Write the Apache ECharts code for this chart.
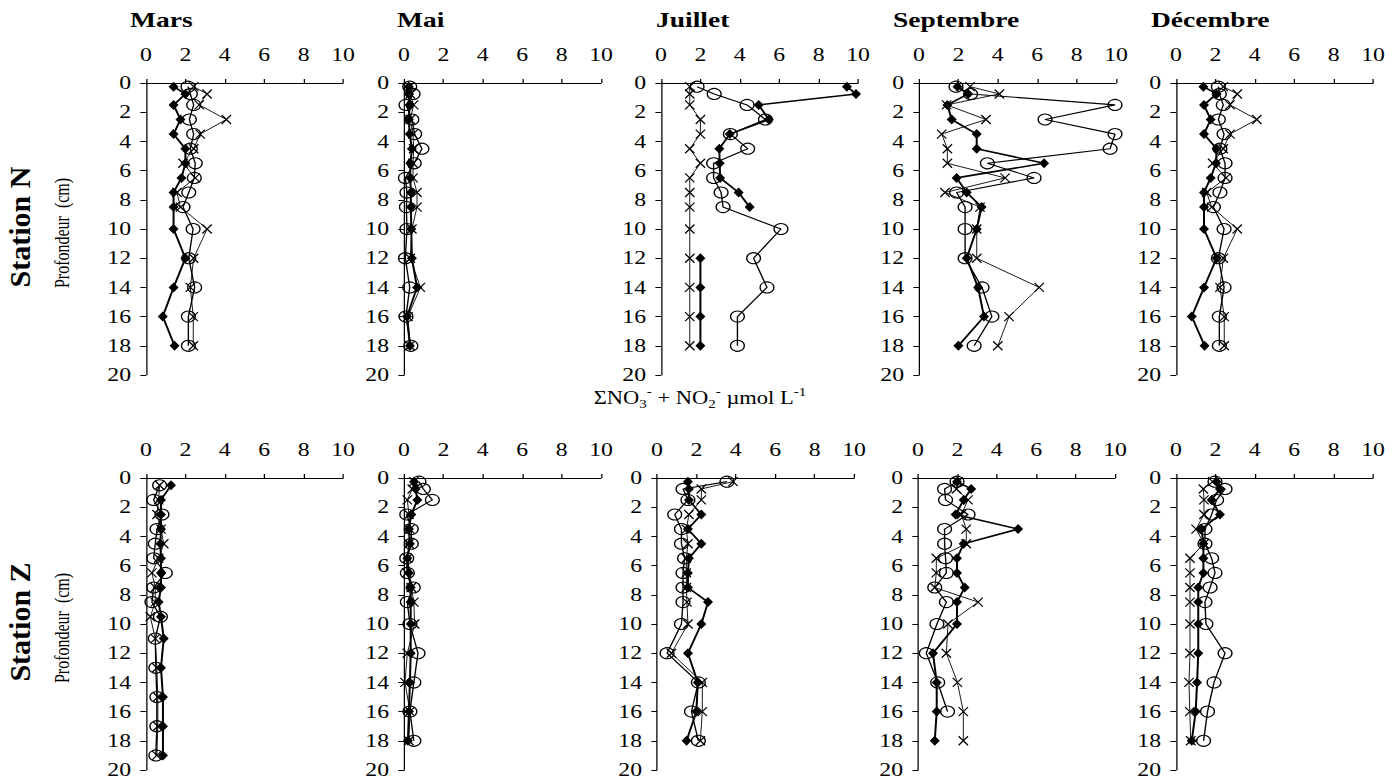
<!DOCTYPE html>
<html>
<head>
<meta charset="utf-8">
<script src="https://cdn.jsdelivr.net/npm/echarts@6.0.0/dist/echarts.min.js"></script>
<style>
html, body { margin: 0; padding: 0; background: #fff; overflow: hidden; }
/* the reference picture is stretched sideways, so the chart is drawn narrow and widened */
#main { width: 1119.2px; height: 782px; transform: scaleX(1.25); transform-origin: 0 0; }
</style>
</head>
<body>
<div id="main"></div>
<script>
const SX = 1.25;

const months = ['Mars', 'Mai', 'Juillet', 'Septembre', 'Décembre'];
const stations = ['Station N', 'Station Z'];
const xTicks = [0, 2, 4, 6, 8, 10];

// depths (cm)
const depthStd = [0.25, 0.75, 1.5, 2.5, 3.5, 4.5, 5.5, 6.5, 7.5, 8.5, 10, 12, 14, 16, 18];
const depthMarsZ = [0.5, 1.5, 2.5, 3.5, 4.5, 5.5, 6.5, 7.5, 8.5, 9.5, 11, 13, 15, 17, 19];

// Station N  (dia = filled diamond, cir = open circle, crs = cross)
const marsN_dia = [1.4, 2.0, 1.4, 1.75, 1.4, 2.0, 2.0, 1.8, 1.4, 1.4, 1.4, 2.0, 1.4, 0.85, 1.45];
const marsN_cir = [2.13, 2.25, 2.42, 2.2, 2.42, 2.25, 2.5, 2.45, 2.17, 1.88, 2.39, 2.17, 2.47, 2.15, 2.15];
const marsN_crs = [2.42, 3.1, 2.7, 4.08, 2.75, 2.42, 1.88, 2.5, 1.57, 1.75, 3.1, 2.42, 2.25, 2.4, 2.4];

const maiN_dia = [0.24, 0.24, 0.29, 0.24, 0.29, 0.4, 0.32, 0.32, 0.35, 0.35, 0.37, 0.4, 0.66, 0.15, 0.3];
const maiN_cir = [0.29, 0.46, 0.1, 0.4, 0.54, 0.91, 0.52, 0.07, 0.15, 0.12, 0.15, 0.07, 0.29, 0.1, 0.35];
const maiN_crs = [0.29, 0.32, 0.49, 0.32, 0.46, 0.49, 0.46, 0.46, 0.66, 0.66, 0.4, 0.32, 0.83, 0.2, 0.3];

const juilN_dia = [9.44, 9.9, 4.96, 5.47, 3.49, 2.96, 2.98, 3.0, 3.94, 4.5, null, 2.0, 2.0, 2.0, 2.0];
const juilN_cir = [1.83, 2.7, 4.37, 5.3, 3.52, 4.4, 2.67, 2.67, 3.05, 3.15, 6.09, 4.7, 5.38, 3.88, 3.88];
const juilN_crs = [1.46, 1.46, 1.46, 2.0, 2.0, 1.46, 2.0, 1.46, 1.46, 1.46, 1.46, 1.46, 1.46, 1.46, 1.46];

const septN_dia = [1.95, 2.5, 1.44, 1.66, 2.93, 2.93, 6.35, 1.91, 2.42, 3.18, 2.93, 2.42, 3.0, 3.3, 2.0];
const septN_cir = [1.88, 2.62, 9.95, 6.4, 9.95, 9.7, 3.47, 5.84, 1.91, 2.34, 2.34, 2.34, 3.2, 3.7, 2.8];
const septN_crs = [2.59, 4.08, 1.4, 3.4, 1.15, 1.44, 1.44, 4.37, 1.32, 3.1, 2.93, 2.93, 6.1, 4.57, 4.0];

const decN_dia = [1.39, 2.06, 1.42, 1.76, 1.42, 2.06, 2.03, 1.76, 1.42, 1.42, 1.42, 2.06, 1.42, 0.8, 1.45];
const decN_cir = [2.15, 2.2, 2.4, 2.15, 2.44, 2.23, 2.49, 2.49, 2.23, 1.9, 2.44, 2.15, 2.44, 2.2, 2.2];
const decN_crs = [2.4, 3.11, 2.74, 4.1, 2.74, 2.4, 1.86, 2.54, 1.56, 1.81, 3.11, 2.4, 2.23, 2.45, 2.45];

// Station Z
const marsZ_dia = [1.27, 0.76, 0.76, 0.76, 0.73, 0.76, 0.76, 0.76, 0.64, 0.76, 0.9, 0.76, 0.86, 0.86, 0.86];
const marsZ_cir = [0.69, 0.39, 0.81, 0.56, 0.47, 0.39, 0.98, 0.39, 0.3, 0.73, 0.47, 0.5, 0.55, 0.55, 0.5];
const marsZ_crs = [0.69, 0.64, 0.56, 0.76, 0.9, 0.64, 0.3, 0.47, 0.47, 0.22, 0.47, 0.55, 0.6, 0.6, 0.55];

const maiZ_dia = [0.51, 0.59, 0.68, 0.37, 0.25, 0.3, 0.17, 0.25, 0.34, 0.34, 0.34, 0.34, 0.3, 0.25, 0.2];
const maiZ_cir = [0.76, 0.98, 1.44, 0.14, 0.37, 0.37, 0.14, 0.17, 0.47, 0.17, 0.3, 0.71, 0.5, 0.3, 0.5];
const maiZ_crs = [0.5, 0.42, 0.17, 0.25, 0.3, 0.25, 0.17, 0.14, 0.37, 0.5, 0.54, 0.17, 0.05, 0.3, 0.25];

const juilZ_dia = [1.57, 1.62, 1.62, 2.25, 1.57, 2.25, 1.62, 1.57, 1.57, 2.59, 2.25, 1.57, 2.07, 2.0, 1.5];
const juilZ_cir = [3.55, 1.32, 1.57, 0.9, 1.24, 1.24, 1.4, 1.32, 1.32, 1.32, 1.24, 0.51, 2.1, 1.75, 2.1];
const juilZ_crs = [3.86, 2.25, 2.25, 1.62, 1.49, 1.57, 1.49, 1.49, 1.49, 1.52, 1.57, 0.73, 2.3, 2.3, 2.2];

const septZ_dia = [1.98, 2.7, 2.32, 1.91, 5.08, 2.32, 1.98, 1.98, 2.37, 1.98, 1.98, 0.76, 0.95, 0.95, 0.85];
const septZ_cir = [1.98, 1.35, 1.4, 2.54, 1.35, 1.35, 1.4, 1.44, 0.85, 1.44, 0.96, 0.42, 1.0, 1.5, null];
const septZ_crs = [2.03, 1.95, 2.54, 2.2, 2.45, 2.45, 0.93, 0.93, 0.85, 3.05, 1.52, 1.44, 2.0, 2.3, 2.3];

const decZ_dia = [2.06, 2.23, 1.81, 2.23, 1.3, 1.39, 1.39, 1.39, 1.13, 1.13, 1.13, 1.13, 1.07, 1.0, 0.8];
const decZ_cir = [1.98, 2.49, 2.06, 1.81, 1.47, 1.47, 1.81, 1.98, 1.73, 1.47, 1.52, 2.49, 1.93, 1.6, 1.4];
const decZ_crs = [1.86, 1.39, 1.42, 1.42, 1.02, 1.42, 0.71, 0.71, 0.71, 0.71, 0.71, 0.71, 0.66, 0.7, 0.75];

const panels = [
    { depth: depthStd, dia: marsN_dia, cir: marsN_cir, crs: marsN_crs },
    { depth: depthStd, dia: maiN_dia, cir: maiN_cir, crs: maiN_crs },
    { depth: depthStd, dia: juilN_dia, cir: juilN_cir, crs: juilN_crs },
    { depth: depthStd, dia: septN_dia, cir: septN_cir, crs: septN_crs },
    { depth: depthStd, dia: decN_dia, cir: decN_cir, crs: decN_crs },
    { depth: depthMarsZ, dia: marsZ_dia, cir: marsZ_cir, crs: marsZ_crs },
    { depth: depthStd, dia: maiZ_dia, cir: maiZ_cir, crs: maiZ_crs },
    { depth: depthStd, dia: juilZ_dia, cir: juilZ_cir, crs: juilZ_crs },
    { depth: depthStd, dia: septZ_dia, cir: septZ_cir, crs: septZ_crs },
    { depth: depthStd, dia: decZ_dia, cir: decZ_cir, crs: decZ_crs },
];

// layout, in pixels of the final picture
const gridLeft = [146, 404, 661, 919, 1176, 146, 404, 657, 918, 1176];
const rowTop = [83, 478];
const gridW = 197, gridH = 292;
const titleX = [130, 397, 656, 893, 1151];

const FONT = '"Liberation Serif", "Times New Roman", serif';
const cross = 'path://M0,0L10,10M0,10L10,0';

const grids = [], xAxes = [], yAxes = [], series = [];
panels.forEach((p, i) => {
    grids.push({
        left: gridLeft[i] / SX, top: rowTop[Math.floor(i / 5)],
        width: gridW / SX, height: gridH
    });
    xAxes.push({
        gridIndex: i, type: 'value', position: 'top', min: 0, max: 10, interval: 2,
        axisLine: { onZero: false, lineStyle: { color: '#000', width: 1 } },
        axisTick: { length: 4, lineStyle: { color: '#000' } },
        axisLabel: { margin: 19, fontSize: 19, fontFamily: FONT, color: '#000' },
        splitLine: { show: false }
    });
    yAxes.push({
        gridIndex: i, type: 'value', inverse: true, min: 0, max: 20, interval: 2,
        axisLine: { onZero: false, lineStyle: { color: '#000', width: 1 } },
        axisTick: { length: 4.5, lineStyle: { color: '#000' } },
        axisLabel: { margin: 12, fontSize: 19, fontFamily: FONT, color: '#000' },
        splitLine: { show: false }
    });
    const pts = vals => vals.map((v, k) => [v === null ? '-' : v, p.depth[k]]);
    const base = { type: 'line', xAxisIndex: i, yAxisIndex: i, silent: true, animation: false, connectNulls: false };
    series.push(Object.assign({}, base, {
        data: pts(p.dia), symbol: 'diamond', symbolSize: [8, 10],
        itemStyle: { color: '#000' }, lineStyle: { color: '#000', width: 1.6 }
    }));
    series.push(Object.assign({}, base, {
        data: pts(p.cir), symbol: 'circle', symbolSize: 11,
        itemStyle: { color: 'rgba(0,0,0,0)', borderColor: '#000', borderWidth: 1.1 },
        lineStyle: { color: '#000', width: 1.1 }
    }));
    series.push(Object.assign({}, base, {
        data: pts(p.crs), symbol: cross, symbolSize: [7.5, 9],
        itemStyle: { color: '#000', borderColor: '#000', borderWidth: 1.1 },
        lineStyle: { color: '#000', width: 0.8 }
    }));
});

const graphics = [];
months.forEach((m, i) => {
    graphics.push({
        type: 'text', x: titleX[i] / SX, y: 19,
        style: { text: m, font: 'bold 22px ' + FONT, fill: '#000', textAlign: 'left', textVerticalAlign: 'middle' }
    });
});
stations.forEach((s, r) => {
    graphics.push({
        type: 'text', x: 19 / SX, y: 227 + r * 395, rotation: Math.PI / 2, scaleY: 1 / SX,
        style: { text: s, font: 'bold 30px ' + FONT, fill: '#000', textAlign: 'center', textVerticalAlign: 'middle' }
    });
    graphics.push({
        type: 'text', x: 62.5 / SX, y: 233 + r * 395, rotation: Math.PI / 2,
        style: { text: 'Profondeur  (cm)', font: '16px ' + FONT, fill: '#000', textAlign: 'center', textVerticalAlign: 'middle' }
    });
});
graphics.push({
    type: 'text', x: 700 / SX, y: 398,
    style: {
        text: 'ΣNO{sub|3}{sup|-} + NO{sub|2}{sup|-} µmol L{sup|-1}',
        font: '18px ' + FONT, fill: '#000', textAlign: 'center', textVerticalAlign: 'middle',
        rich: {
            sub: { fontSize: 12, lineHeight: 12, verticalAlign: 'bottom', fontFamily: FONT },
            sup: { fontSize: 12, lineHeight: 12, verticalAlign: 'top', fontFamily: FONT }
        },
        lineHeight: 24
    }
});

const chartDom = document.getElementById('main');
const myChart = echarts.init(chartDom, null, { renderer: 'svg' });
myChart.setOption({
    animation: false,
    backgroundColor: '#fff',
    grid: grids,
    xAxis: xAxes,
    yAxis: yAxes,
    series: series,
    graphic: graphics
});
</script>
</body>
</html>
